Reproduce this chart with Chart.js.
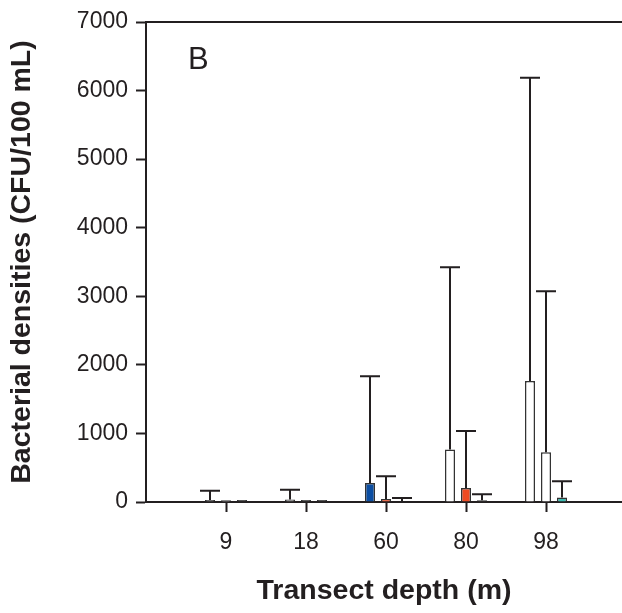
<!DOCTYPE html>
<html>
<head>
<meta charset="utf-8">
<script src="https://cdn.jsdelivr.net/npm/chart.js@4/dist/chart.umd.min.js"></script>
<style>
  html, body { margin: 0; padding: 0; background: #fff; }
  #wrap { width: 622px; height: 613px; }
</style>
</head>
<body>
<div id="wrap"><canvas id="chart" width="622" height="613"></canvas></div>
<script>
// transect depths (categories)
const depths = ['9', '18', '60', '80', '98'];

// three bars per depth: left / centre / right
const meanLeft = [30, 35, 277, 765, 1766];
const sdLeft = [135, 145, 1557, 2660, 4421];

const meanMid = [25, 30, 44, 204, 725];
const sdMid = [null, null, 331, 832, 2350];

const meanRight = [30, 30, 10, 25, 64];
const sdRight = [null, null, 48, 87, 238];

const yTicks = [0, 1000, 2000, 3000, 4000, 5000, 6000, 7000];

// colours per bar
const colLeft = ['#808080', '#8c8c8c', '#0c4ea2', '#ffffff', '#ffffff'];
const colMid = ['#bdbdbd', '#4d4d4d', '#ef4b23', '#ef4b23', '#ffffff'];
const colRight = ['#3c3c3c', '#3c3c3c', '#3c3c3c', '#4d4d4d', '#3dbdb4'];

const INK = '#231f20';
const FONT = "'Liberation Sans', Arial, Helvetica, sans-serif";

function toPoints(vals) {
  return vals.map((v, i) => ({ x: i + 1, y: v }));
}

function makeSet(label, vals, sd, colors) {
  return {
    label,
    data: toPoints(vals),
    sd,
    backgroundColor: colors,
    borderColor: '#333333',
    borderWidth: 1.5,
    borderSkipped: 'bottom',
    categoryPercentage: 0.6,
    barPercentage: 0.625
  };
}

// =====================
// ERROR BARS + FRAME
// =====================
const extras = {
  id: 'extras',
  afterDatasetsDraw(chart) {
    const ctx = chart.ctx;
    const yScale = chart.scales.y;
    const area = chart.chartArea;
    ctx.save();
    ctx.strokeStyle = INK;
    ctx.lineWidth = 2;
    chart.data.datasets.forEach((ds, di) => {
      const meta = chart.getDatasetMeta(di);
      meta.data.forEach((bar, j) => {
        const s = ds.sd[j];
        if (s == null) return;
        const top = yScale.getPixelForValue(ds.data[j].y + s);
        ctx.beginPath();
        ctx.moveTo(bar.x, bar.y);
        ctx.lineTo(bar.x, top);
        ctx.moveTo(bar.x - 10, top);
        ctx.lineTo(bar.x + 10, top);
        ctx.stroke();
      });
    });

    // top frame line
    ctx.beginPath();
    ctx.moveTo(area.left - 1, area.top);
    ctx.lineTo(chart.width, area.top);
    ctx.stroke();

    // panel letter
    ctx.fillStyle = INK;
    ctx.font = '31px ' + FONT;
    ctx.textBaseline = 'alphabetic';
    ctx.fillText('B', 188, 69);
    ctx.restore();
  }
};

new Chart(document.getElementById('chart'), {
  type: 'bar',
  data: {
    datasets: [
      makeSet('left', meanLeft, sdLeft, colLeft),
      makeSet('centre', meanMid, sdMid, colMid),
      makeSet('right', meanRight, sdRight, colRight)
    ]
  },
  options: {
    responsive: false,
    animation: false,
    layout: { padding: { top: 22, right: 0, left: 0, bottom: 0 } },
    plugins: {
      legend: { display: false },
      tooltip: { enabled: false }
    },
    scales: {
      x: {
        type: 'linear',
        min: 0,
        max: 5.95,
        offset: false,
        afterFit(scale) { scale.height = 111; },
        afterBuildTicks(scale) {
          scale.ticks = depths.map((d, i) => ({ value: i + 1 }));
        },
        grid: {
          offset: false,
          drawOnChartArea: false,
          drawTicks: true,
          tickLength: 10,
          tickWidth: 2,
          tickColor: INK
        },
        border: { display: true, color: INK, width: 2 },
        ticks: {
          color: INK,
          font: { family: FONT, size: 23 },
          padding: 17,
          maxRotation: 0,
          autoSkip: false,
          callback: (v) => depths[v - 1] || ''
        },
        title: {
          display: true,
          text: 'Transect depth (m)',
          color: INK,
          font: { family: FONT, size: 28.5, weight: 'bold' },
          padding: { top: 0, bottom: 5 }
        }
      },
      y: {
        min: 0,
        max: 7000,
        afterFit(scale) { scale.width = 146; },
        afterBuildTicks(scale) {
          scale.ticks = yTicks.map(v => ({ value: v }));
        },
        grid: {
          drawOnChartArea: false,
          drawTicks: true,
          tickLength: 10,
          tickWidth: 2,
          tickColor: INK
        },
        border: { display: true, color: INK, width: 2 },
        ticks: {
          color: INK,
          font: { family: FONT, size: 23 },
          padding: 8,
          callback: (v) => String(v)
        },
        title: {
          display: true,
          text: 'Bacterial densities (CFU/100 mL)',
          color: INK,
          font: { family: FONT, size: 28.5, weight: 'bold' },
          padding: { top: 5, bottom: 0 }
        }
      }
    }
  },
  plugins: [extras]
});
</script>
</body>
</html>
